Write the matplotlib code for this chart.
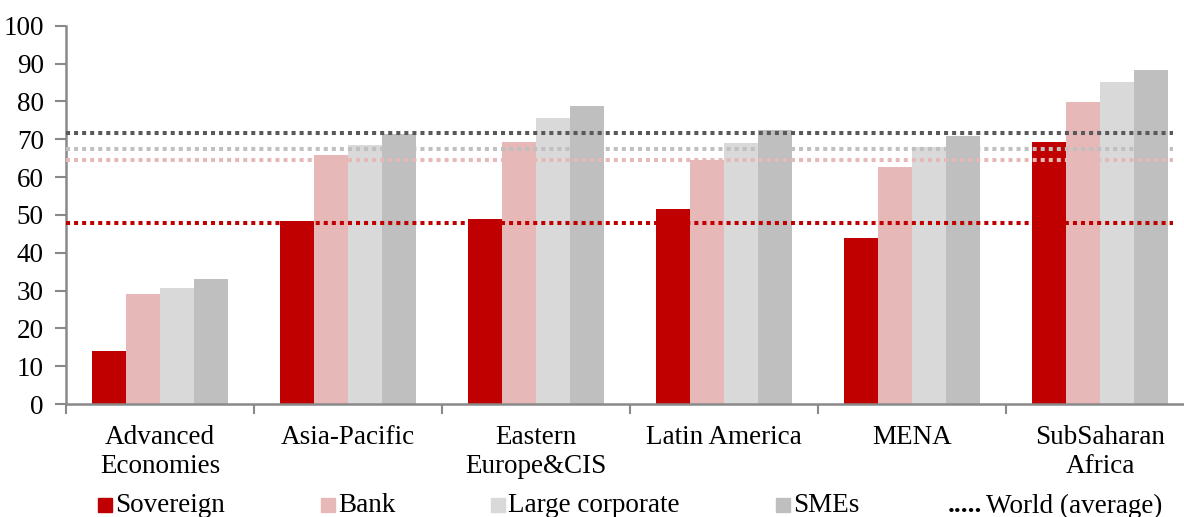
import numpy as np
import matplotlib.pyplot as plt
from matplotlib.patches import Rectangle

plt.rcParams['font.family'] = ['Liberation Serif', 'DejaVu Serif']

regions = ["Advanced\nEconomies", "Asia-Pacific", "Eastern\nEurope&CIS",
           "Latin America", "MENA", "SubSaharan\nAfrica"]

sovereign = [14.1, 48.5, 48.8, 51.5, 43.8, 69.2]
bank = [29.2, 65.9, 69.2, 64.6, 62.7, 79.8]
large_corp = [30.7, 68.4, 75.5, 68.9, 68.0, 85.0]
smes = [33.0, 71.4, 78.7, 72.4, 70.9, 88.2]

# moyennes monde
world_sov = 47.9
world_bank = 64.4
world_large = 67.5
world_smes = 71.7

series = [("Sovereign", sovereign, "#C00000"),
          ("Bank", bank, "#E6B8B7"),
          ("Large corporate", large_corp, "#D9D9D9"),
          ("SMEs", smes, "#BFBFBF")]

fs = 19.5

fig = plt.figure(figsize=(11.84, 5.17), dpi=100)
ax = fig.add_axes([66/1184, 113/517, 1128/1184, 378.3/517])

x = np.arange(len(regions))
w = 0.181
for k, (name, vals, col) in enumerate(series):
    ax.bar(x + (k - 1.5) * w, vals, w, color=col, linewidth=0, zorder=2)

# lignes pointillées (moyenne monde)
for val, col in [(world_smes, "#595959"), (world_large, "#C0C0C0"),
                 (world_bank, "#E6B8B7"), (world_sov, "#C00000")]:
    ax.hlines(val, -0.5, 5.39, colors=col, linewidth=2.9,
              linestyles=(0, (1, 1)), zorder=3)

ax.set_xlim(-0.5, 5.5)
ax.set_ylim(0, 100)
ax.set_yticks(np.arange(0, 101, 10))
ax.tick_params(axis='y', labelsize=fs, length=8, width=1.5, color="#898989",
               pad=8)

ax.set_xticks(x)
ax.set_xticklabels(regions, fontsize=fs, linespacing=1.2)
ax.tick_params(axis='x', which='major', length=0, pad=15)
ax.set_xticks(np.arange(-0.5, 5.6, 1), minor=True)
ax.tick_params(axis='x', which='minor', length=7, width=1.5, color="#898989")

for s in ["top", "right"]:
    ax.spines[s].set_visible(False)
for s in ["left", "bottom"]:
    ax.spines[s].set_color("#898989")
    ax.spines[s].set_linewidth(1.8)

# légende en bas
W, H = 1184, 517
leg_x = [98, 321, 491, 776]
for (name, vals, col), lx in zip(series, leg_x):
    fig.patches.append(Rectangle((lx / W, (H - 512) / H), 14 / W, 14 / H,
                                 color=col, transform=fig.transFigure))
    fig.text((lx + 17) / W, (H - 506) / H, name, fontsize=fs, va='center')
fig.text(948 / W, (H - 506) / H, ".....", fontsize=fs, va='center',
         fontweight='bold')
fig.text(986 / W, (H - 506) / H, "World (average)", fontsize=fs, va='center')

plt.savefig("out.png", dpi=100)
